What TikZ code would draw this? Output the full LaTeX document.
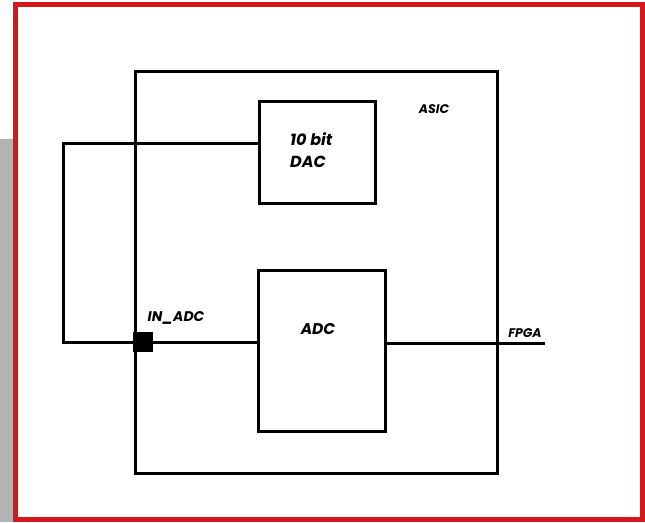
\documentclass[tikz,border=0pt]{standalone}
\usepackage{fontspec}
\setmainfont{Poppins}
\usepackage{xcolor}
\definecolor{cFrame}{HTML}{D7161E}
\definecolor{cSide}{HTML}{B3B3B3}
\usetikzlibrary{positioning}
\tikzset{
  blk/.style={draw=black,line width=3pt,inner sep=0pt,minimum width=#1},
  pin/.style={fill=black,inner sep=0pt,minimum size=20pt},
  wire/.style={draw=black,line width=3pt},
  lbl/.style={font=\fontsize{#1}{#1}\selectfont\bfseries\itshape,inner sep=0pt},
}
\begin{document}
\begin{tikzpicture}[x=1pt,y=-1pt]
  \useasboundingbox (0,0) rectangle (645,522);
  \fill[cSide] (0,139) rectangle (13,522);
  \draw[cFrame,line width=5pt] (15.5,4.5) rectangle (642.5,519.5);

  \node[blk=362pt,minimum height=402pt] (asic) at (316,272) {};
  \node[blk=116pt,minimum height=102pt] (dac) at (317,152) {};
  \node[blk=127pt,minimum height=161pt] (adc) at (321.5,350.5) {};

  \coordinate (tap) at (63,143);
  \coordinate (ret) at (63,342);
  \coordinate (fpga) at (545,343);
  \draw[wire] (dac.west |- tap) -- (tap) -- (ret) -- (adc.west |- ret);
  \draw[wire] (adc.east |- fpga) -- (fpga);
  \node[pin] (inpin) at (143,342) {};

  \node[lbl=12.5pt] (asiclbl) at (434,109) {ASIC};
  \node[lbl=16pt,align=left,anchor=west] (daclbl) at (290,150) {10 bit\\[6pt]DAC};
  \node[lbl=15.5pt] (adclbl) at (318,329) {ADC};
  \node[lbl=14pt] (inlbl) at (176,318) {IN\_ADC};
  \node[lbl=12.5pt] (fpgalbl) at (525,333) {FPGA};
\end{tikzpicture}
\end{document}
